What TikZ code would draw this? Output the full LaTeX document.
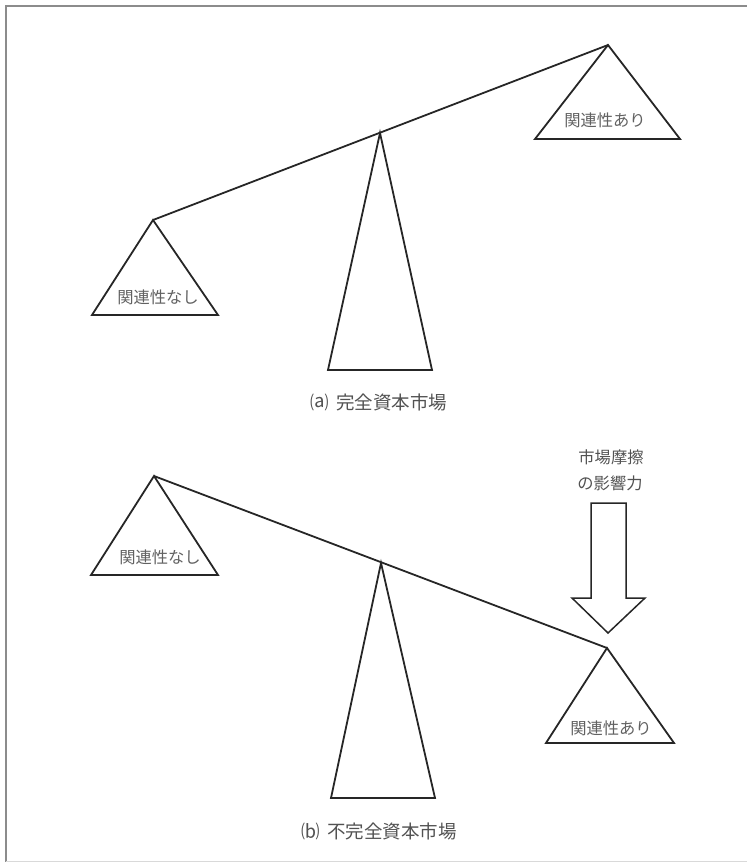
\documentclass[tikz,border=0pt]{standalone}
\usepackage{fontspec}
\newfontfamily\jp{Noto Sans CJK JP}
\begin{document}
\begin{tikzpicture}[x=1pt,y=-1pt,
  bar/.style={draw=black!85,line width=1.8pt,line join=miter},
  tri/.style={draw=black!85,line width=1.8pt,line join=miter},
  lbl/.style={font=\jp\fontsize{16.3}{16.3}\selectfont,text=black!62,inner sep=0pt},
  captxt/.style={font=\jp\fontsize{18.5}{18.5}\selectfont,text=black!68,inner sep=0pt},
  framel/.style={draw=black!45,line width=1.2pt}]
\useasboundingbox (0,0) rectangle (747,862);
\draw[framel] (6,862) -- (6,6) -- (747,6);
\draw[draw=black!15,line width=1pt] (6,861) -- (747,861);
% ---------- (a)
\coordinate (aL) at (153,220);
\coordinate (aR) at (608,45);
\coordinate (aF) at (380,133);
\draw[bar] (aL) -- (aR);
\draw[tri] (aF) -- (328,370) -- (432,370) -- cycle;
\draw[tri] (aL) -- (92,315) -- (218,315) -- cycle;
\draw[tri] (aR) -- (535,139) -- (680,139) -- cycle;
\node[lbl] (aLt) at (158,297) {関連性なし};
\node[lbl] (aRt) at (605,120) {関連性あり};
\node[captxt] (acap) at (379,402) {⒜\hspace{0.4em}完全資本市場};
% ---------- (b)
\coordinate (bL) at (154,476);
\coordinate (bR) at (607,648);
\coordinate (bF) at (381,563);
\draw[bar] (bL) -- (bR);
\draw[tri] (bF) -- (331,798) -- (435,798) -- cycle;
\draw[tri] (bL) -- (91,575) -- (218,575) -- cycle;
\draw[tri] (bR) -- (546,743) -- (674,743) -- cycle;
\node[lbl] (bLt) at (160,557) {関連性なし};
\node[lbl] (bRt) at (611,728) {関連性あり};
\node[captxt] (bcap) at (379,831) {⒝\hspace{0.4em}不完全資本市場};
\node[lbl,text=black!68] (f1) at (611,457) {市場摩擦};
\node[lbl,text=black!68] (f2) at (610,483) {の影響力};
\draw[draw=black!85,line width=1.5pt,line join=miter]
  (591,503) -- (626,503) -- (626,598) -- (645,598) -- (608,633) -- (572,598) -- (591,598) -- cycle;
\end{tikzpicture}
\end{document}
